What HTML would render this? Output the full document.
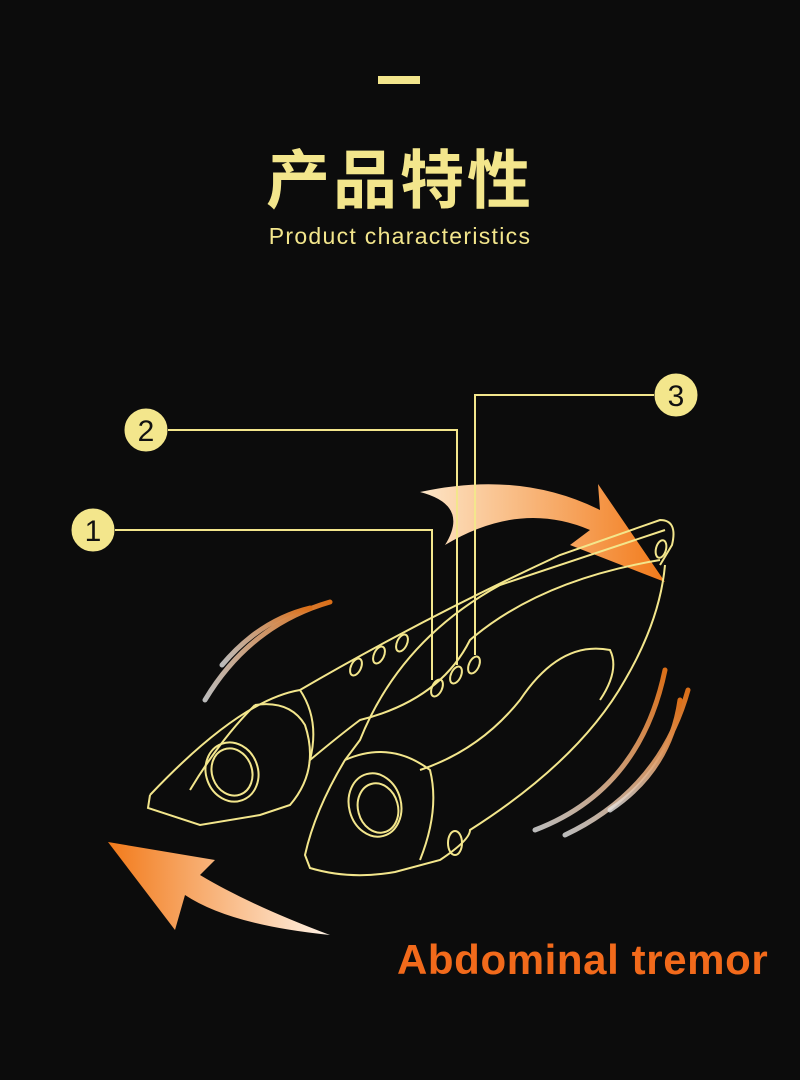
<!DOCTYPE html>
<html><head><meta charset="utf-8"><style>
html,body{margin:0;padding:0;background:#0c0c0c;}
body{width:800px;height:1080px;position:relative;overflow:hidden;font-family:"Liberation Sans","Noto Sans CJK SC",sans-serif;}
.t{position:absolute;left:0;width:800px;text-align:center;color:#f3e68c;}
</style></head><body>
<div style="position:absolute;left:378px;top:76px;width:42px;height:8px;background:#f3e68c"></div>
<div class="t" style="top:130px;font-size:64px;font-weight:bold;letter-spacing:3px;font-family:'Noto Sans CJK SC',sans-serif">产品特性</div>
<div class="t" style="top:223px;font-size:23px;letter-spacing:1.3px">Product characteristics</div>
<svg width="800" height="1080" style="position:absolute;left:0;top:0">
<defs>
<linearGradient id="g1" x1="0" y1="0" x2="1" y2="0"><stop offset="0" stop-color="#fde6c8"/><stop offset="1" stop-color="#f27a1a"/></linearGradient>
<linearGradient id="g2" x1="1" y1="0" x2="0" y2="0"><stop offset="0" stop-color="#fff3e6"/><stop offset="1" stop-color="#f27a1a"/></linearGradient>
<linearGradient id="g3" x1="0" y1="1" x2="1" y2="0"><stop offset="0" stop-color="#fff" stop-opacity=".8"/><stop offset="1" stop-color="#f27a1a"/></linearGradient>
</defs>
<path d="M420 492 Q520 470 600 510 L598 484 L665 582 L570 545 L590 530 Q520 500 445 545 Q470 505 420 492Z" fill="url(#g1)"/>
<path d="M330 935 Q230 925 185 895 L175 930 L108 842 L215 860 L200 875 Q250 905 330 935Z" fill="url(#g2)"/>
<g fill="none" stroke="url(#g3)" stroke-width="5" stroke-linecap="round" opacity=".9">
<path d="M205 700 Q250 625 330 602"/><path d="M222 665 Q260 620 310 608"/>
<path d="M535 830 Q640 790 665 670"/><path d="M565 835 Q660 790 688 690"/><path d="M610 810 Q670 770 680 700"/>
</g>
<g fill="none" stroke="#f3e68c" stroke-width="2">
<path d="M115 530 H432 V680"/><path d="M168 430 H457 V665"/><path d="M654 395 H475 V655"/>
</g>
<g fill="#f3e68c" stroke="#f3e68c">
<circle cx="93" cy="530" r="21"/><circle cx="146" cy="430" r="21"/><circle cx="676" cy="395" r="21"/>
</g>
<g font-size="30" fill="#111" text-anchor="middle" font-family="Liberation Sans,sans-serif">
<text x="93" y="541">1</text><text x="146" y="441">2</text><text x="676" y="406">3</text>
</g>
<g fill="none" stroke="#f3e68c" stroke-width="2">
<path d="M150 795 Q240 700 300 690 Q420 620 560 555 L660 520 Q678 520 672 545 L660 565"/>
<path d="M150 795 L148 808 L200 825 L260 815 L290 805 Q320 770 305 725 Q290 700 255 705"/>
<path d="M255 705 Q220 740 190 790"/>
<ellipse cx="232" cy="772" rx="26" ry="30" transform="rotate(-20 232 772)"/>
<ellipse cx="232" cy="772" rx="20" ry="24" transform="rotate(-20 232 772)"/>
<path d="M300 690 Q320 720 310 760 Q340 735 360 720 Q440 700 470 640 Q540 580 660 560"/>
<path d="M665 530 L500 585 Q400 640 360 740 L345 760 Q315 810 305 855 L310 868 Q350 880 395 872 L440 860 Q470 840 470 830 Q580 760 625 680 Q660 620 665 565"/>
<path d="M345 760 Q390 740 430 770 Q440 810 420 860"/>
<ellipse cx="375" cy="805" rx="26" ry="32" transform="rotate(-15 375 805)"/>
<ellipse cx="378" cy="808" rx="20" ry="25" transform="rotate(-15 378 808)"/>
<path d="M420 770 Q480 750 520 700 Q560 640 610 650 Q620 670 600 700"/>
<ellipse cx="455" cy="843" rx="7" ry="12"/>
<ellipse cx="661" cy="549" rx="5" ry="9" transform="rotate(15 661 549)"/>
<ellipse cx="356" cy="667" rx="5" ry="9" transform="rotate(25 356 667)"/>
<ellipse cx="379" cy="655" rx="5" ry="9" transform="rotate(25 379 655)"/>
<ellipse cx="402" cy="643" rx="5" ry="9" transform="rotate(25 402 643)"/>
<ellipse cx="437" cy="688" rx="5" ry="9" transform="rotate(25 437 688)"/>
<ellipse cx="456" cy="675" rx="5" ry="9" transform="rotate(25 456 675)"/>
<ellipse cx="474" cy="665" rx="5" ry="9" transform="rotate(25 474 665)"/>
</g>
<text x="397" y="974" font-size="42" font-weight="bold" letter-spacing="0.6" fill="#f26a1b" font-family="Liberation Sans,sans-serif">Abdominal tremor</text>
</svg>
</body></html>
